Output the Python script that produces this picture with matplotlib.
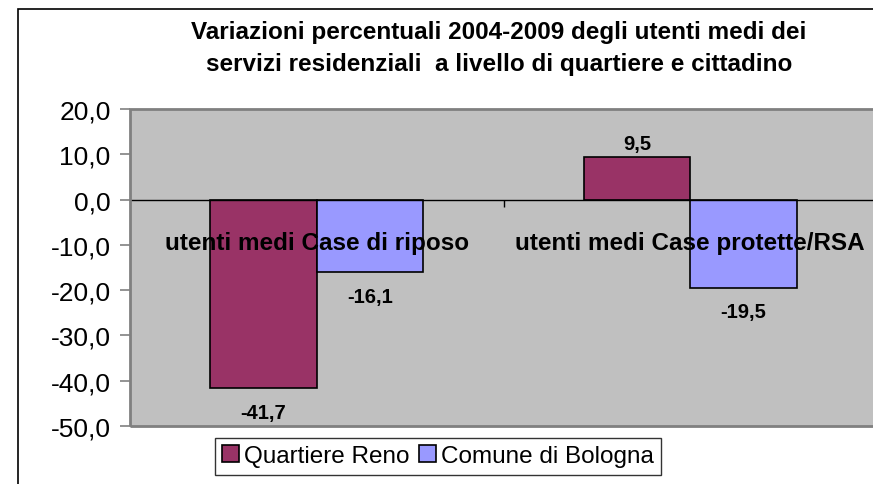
import numpy as np
import matplotlib
matplotlib.use("Agg")
import matplotlib.pyplot as plt
from matplotlib.patches import Rectangle
from matplotlib.ticker import FuncFormatter, FixedLocator

plt.rcParams["font.family"] = ["Liberation Sans", "DejaVu Sans"]

categories = ["utenti medi Case di riposo", "utenti medi Case protette/RSA"]
series = ["Quartiere Reno", "Comune di Bologna"]
reno = [-41.7, 9.5]
bologna = [-16.1, -19.5]
colors = ["#993366", "#9999FF"]
title = ("Variazioni percentuali 2004-2009 degli utenti medi dei\n"
         "servizi residenziali  a livello di quartiere e cittadino")

def comma(v, d=1):
    return "{:.{}f}".format(v, d).replace(".", ",")

fig = plt.figure(figsize=(8.73, 4.85), dpi=100)
# outer chart border
fig.patches.append(Rectangle((18 / 873, -0.1), 1.0, 1.1 - 10 / 485, transform=fig.transFigure,
                             fill=False, edgecolor="black", linewidth=1.2))
ax = fig.add_axes([130 / 873, 1 - 427 / 485, 747 / 873, 317 / 485])
ax.set_facecolor("#C0C0C0")

x = np.arange(len(categories))
w = 0.285
b1 = ax.bar(x - w / 2, reno, w, color=colors[0], edgecolor="black", linewidth=1.2, label=series[0])
b2 = ax.bar(x + w / 2, bologna, w, color=colors[1], edgecolor="black", linewidth=1.2, label=series[1])

for bars, vals in ((b1, reno), (b2, bologna)):
    for r, v in zip(bars, vals):
        off = 13 if v > 0 else -24
        ax.annotate(comma(v), (r.get_x() + r.get_width() / 2, v), xytext=(0, off),
                    textcoords="offset pixels", ha="center", va="center",
                    fontsize=14.5, fontweight="bold")

for xi, c in zip(x, categories):
    ax.annotate(c, (xi, 0), xytext=(0, -43), textcoords="offset pixels",
                ha="center", va="center", fontsize=17.5, fontweight="bold")

ax.set_xlim(-0.5, len(categories) - 0.5)
ax.set_ylim(-50, 20)
ax.yaxis.set_major_locator(FixedLocator(np.arange(-50, 21, 10)))
ax.yaxis.set_major_formatter(FuncFormatter(lambda v, p: comma(v)))
ax.tick_params(axis="y", direction="out", length=7, width=1.2, color="#808080",
               labelsize=19, pad=7)

for s in ("top", "right", "left"):
    ax.spines[s].set_visible(False)
ax.spines["bottom"].set_position(("data", 0))
ax.spines["bottom"].set_color("black")
ax.spines["bottom"].set_linewidth(1)
ax.xaxis.set_major_locator(FixedLocator(x[:-1] + 0.5))
ax.tick_params(axis="x", direction="out", length=5, width=1, color="black", labelbottom=False)
ax.add_patch(Rectangle((0, 0), 1, 1, transform=ax.transAxes, fill=False,
                       edgecolor="#808080", linewidth=2, clip_on=False, zorder=3))

fig.text(499 / 873, 1 - 48 / 485, title, ha="center", va="center", fontsize=17.5,
         fontweight="bold", linespacing=1.5)

leg = fig.legend(loc="upper left", bbox_to_anchor=(215 / 873, 1 - 439 / 485), ncol=2,
                 fontsize=17.5, frameon=True, fancybox=False, handlelength=0.7,
                 handleheight=0.7, handletextpad=0.2, columnspacing=0.4,
                 borderpad=0.3, borderaxespad=0)
leg.get_frame().set_edgecolor("black")
leg.get_frame().set_linewidth(1)

fig.savefig("out.png", dpi=100)
